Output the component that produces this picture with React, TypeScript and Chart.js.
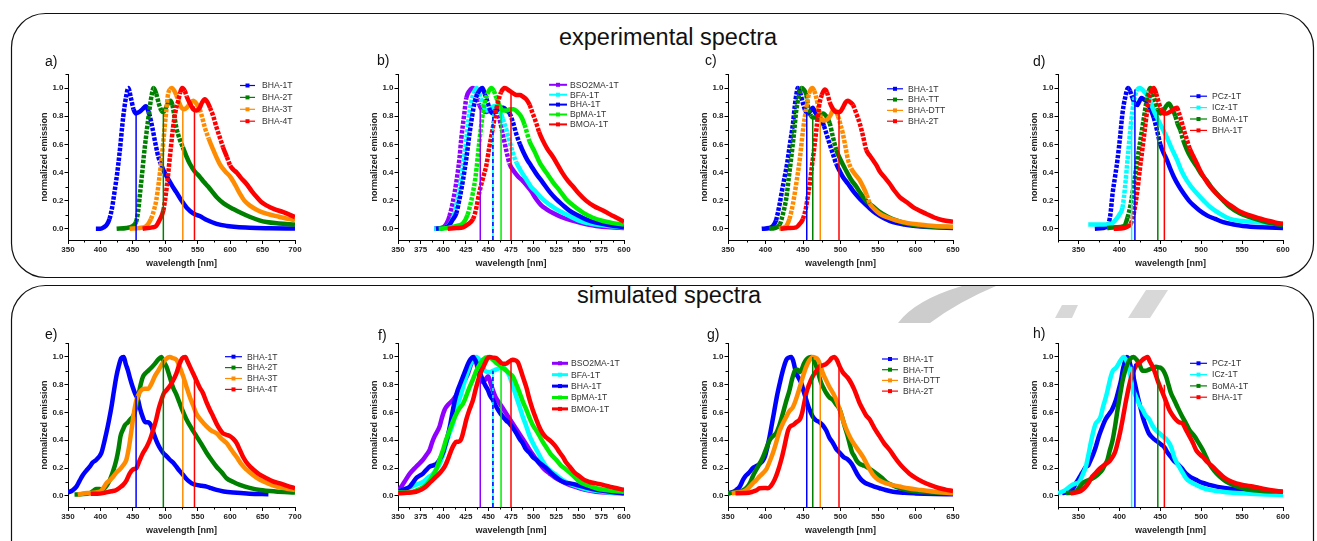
import React, { useEffect, useRef } from 'react';
import { Chart, registerables } from 'chart.js';

Chart.register(...registerables);

// ---------- colours ----------
const BLUE = '#0000ff';
const GREEN = '#008000';
const ORANGE = '#ff8c00';
const RED = '#ff0000';
const VIOLET = '#8f00ff';
const CYAN = '#00ffff';
const LIME = '#00ee00';

const FONT = '"Liberation Sans", Arial, Helvetica, sans-serif';

// ---------- legend names ----------
const namesBHAn = ['BHA-1T', 'BHA-2T', 'BHA-3T', 'BHA-4T'];
const namesAcc = ['BSO2MA-1T', 'BFA-1T', 'BHA-1T', 'BpMA-1T', 'BMOA-1T'];
const namesBridge = ['BHA-1T', 'BHA-TT', 'BHA-DTT', 'BHA-2T'];
const namesDonor = ['PCz-1T', 'ICz-1T', 'BoMA-1T', 'BHA-1T'];

const colorsBHAn = [BLUE, GREEN, ORANGE, RED];
const colorsAcc = [VIOLET, CYAN, BLUE, LIME, RED];
const colorsBridge = [BLUE, GREEN, ORANGE, RED];
const colorsDonor = [BLUE, CYAN, GREEN, RED];

// ---------- a) experimental, BHA-nT  [wavelength nm, normalized emission] ----------
const aBHA1T = [[393,0],[400,0],[405,0.01],[410,0.03],[414,0.07],[418,0.15],[422,0.27],[426,0.4],[430,0.56],[435,0.79],[440,0.95],[443,1.0],[447,0.93],[451,0.85],[455,0.82],[460,0.83],[465,0.85],[470,0.87],[475,0.82],[480,0.72],[485,0.6],[490,0.5],[495,0.44],[500,0.39],[505,0.35],[510,0.31],[517,0.26],[525,0.2],[533,0.15],[543,0.11],[553,0.09],[565,0.06],[579,0.035],[595,0.02],[610,0.012],[630,0.007],[660,0.004],[700,0.002]];
const aBHA2T = [[425,0],[440,0.005],[450,0.02],[455,0.05],[458,0.12],[461,0.25],[464,0.38],[467,0.52],[471,0.68],[476,0.86],[479,0.95],[482,1.0],[486,0.96],[490,0.89],[494,0.84],[497,0.83],[501,0.86],[505,0.9],[508,0.91],[511,0.88],[514,0.8],[517,0.72],[522,0.64],[527,0.58],[533,0.51],[538,0.46],[545,0.41],[553,0.37],[560,0.33],[566,0.3],[573,0.26],[579,0.225],[590,0.18],[605,0.14],[618,0.11],[630,0.085],[645,0.06],[656,0.048],[675,0.038],[700,0.03]];
const aBHA3T = [[445,0],[460,0.005],[471,0.02],[478,0.07],[483,0.14],[486,0.2],[490,0.33],[494,0.49],[497,0.62],[499,0.72],[502,0.86],[504,0.95],[507,0.99],[510,1.0],[514,0.98],[517,0.95],[521,0.9],[525,0.86],[529,0.85],[533,0.86],[538,0.89],[543,0.91],[548,0.89],[553,0.85],[557,0.79],[561,0.72],[567,0.64],[574,0.56],[584,0.46],[592,0.41],[600,0.37],[608,0.31],[615,0.25],[622,0.2],[630,0.166],[643,0.13],[656,0.107],[675,0.085],[700,0.06]];
const aBHA4T = [[465,0],[480,0.01],[486,0.02],[491,0.06],[497,0.13],[501,0.25],[504,0.37],[508,0.55],[512,0.72],[516,0.84],[520,0.91],[523,0.97],[526,1.0],[530,0.98],[533,0.94],[538,0.89],[543,0.85],[548,0.84],[553,0.86],[557,0.9],[561,0.92],[565,0.9],[569,0.86],[574,0.8],[579,0.72],[584,0.65],[589,0.58],[595,0.51],[600,0.45],[605,0.42],[610,0.4],[617,0.36],[625,0.32],[633,0.27],[641,0.225],[648,0.19],[656,0.166],[668,0.14],[682,0.118],[700,0.083]];
const markA = [455, 497, 527, 545];
const markATop = [0.82, 0.83, 0.86, 0.87];

// ---------- b) experimental, acceptor series ----------
const bBSO2MA1T = [[390,0],[400,0.01],[404,0.04],[407,0.09],[411,0.2],[414.5,0.33],[418,0.5],[420,0.64],[423,0.8],[425.6,0.93],[429,0.98],[433,1.0],[437,0.96],[440,0.88],[444,0.84],[448,0.83],[452,0.85],[456,0.86],[459,0.84],[463,0.76],[466,0.67],[470,0.55],[473.5,0.46],[478,0.41],[483,0.37],[488,0.34],[492,0.31],[497,0.27],[503,0.21],[508,0.17],[514,0.14],[522,0.11],[532,0.08],[542,0.06],[551,0.043],[560,0.03],[569,0.02],[585,0.01],[600,0.005]];
const bBFA1T = [[390,0],[400,0.005],[407,0.03],[412,0.1],[415,0.18],[418,0.28],[422,0.45],[425.6,0.64],[428,0.78],[431,0.9],[434,0.97],[437,1.0],[440,0.96],[444,0.88],[448,0.84],[452,0.85],[456,0.87],[460,0.87],[463,0.83],[466,0.78],[470,0.7],[473.5,0.62],[477,0.54],[481,0.47],[486,0.41],[492,0.35],[497,0.3],[503,0.26],[510,0.21],[518,0.17],[525,0.14],[532,0.115],[541,0.085],[551,0.055],[560,0.04],[569,0.03],[585,0.018],[600,0.01]];
const bBHA1T = [[392,0],[400,0.005],[406,0.02],[410,0.06],[414.5,0.11],[418,0.21],[422,0.35],[425.6,0.5],[429,0.67],[432,0.8],[434.8,0.9],[438,0.96],[441,0.99],[443.3,1.0],[446,0.96],[449,0.9],[452,0.84],[455,0.82],[459,0.84],[463,0.86],[467,0.86],[470,0.84],[473.5,0.82],[477,0.76],[481,0.67],[485,0.6],[489,0.54],[493,0.49],[497,0.45],[503,0.39],[510,0.33],[518,0.26],[525,0.21],[532,0.17],[540,0.127],[549,0.095],[558,0.067],[568,0.045],[580,0.03],[590,0.02],[600,0.012]];
const bBpMA1T = [[395,0],[405,0.005],[415,0.02],[422,0.04],[427,0.1],[430,0.17],[433,0.26],[436,0.38],[440,0.62],[443,0.78],[446,0.9],[449,0.96],[453,1.0],[456,0.98],[458.8,0.93],[462,0.88],[466,0.84],[470,0.84],[474,0.85],[478,0.85],[482,0.83],[486,0.8],[490,0.74],[495.6,0.62],[501,0.55],[506.7,0.47],[514,0.4],[521.5,0.33],[529,0.27],[536,0.21],[545,0.16],[554.6,0.115],[565,0.08],[576.8,0.055],[588,0.04],[600,0.03]];
const bBMOA1T = [[405,0],[415,0.005],[422,0.01],[427,0.03],[433,0.07],[436,0.13],[440,0.26],[444,0.36],[447.7,0.45],[451,0.58],[455,0.72],[458,0.83],[460.6,0.9],[464,0.97],[468,1.0],[473.5,0.98],[478,0.96],[481,0.95],[485,0.95],[488,0.94],[492,0.92],[495.6,0.88],[499,0.82],[503,0.75],[506,0.69],[510,0.63],[515,0.57],[521.5,0.51],[527,0.45],[532.5,0.39],[538,0.34],[543.6,0.3],[550,0.25],[558,0.2],[567,0.16],[576.8,0.13],[588,0.09],[600,0.05]];
const markB = [441, 455, 455, 464, 475];
const markBTop = [0.85, 0.82, 0.82, 0.85, 0.96];
const markBDash = [false, false, true, false, false];

// ---------- c) experimental, bridge series ----------
const cBHA1T = [[395,0],[405,0.005],[410,0.02],[414,0.06],[419,0.18],[422,0.27],[425.6,0.37],[429,0.47],[432,0.58],[434.5,0.67],[436.7,0.75],[439,0.87],[441,0.95],[443,1.0],[446,0.97],[450,0.89],[453,0.84],[456.7,0.82],[460,0.84],[463,0.86],[466,0.83],[470,0.8],[474,0.78],[478,0.73],[481,0.68],[485.6,0.6],[490,0.53],[494.4,0.46],[499,0.41],[503,0.37],[510,0.32],[516.7,0.27],[523,0.23],[530,0.19],[538,0.15],[547.8,0.107],[558,0.075],[570,0.047],[585,0.03],[600,0.02],[625,0.01],[650,0.005]];
const cBHATT = [[405,0],[412,0.005],[419,0.03],[423,0.1],[427.8,0.22],[431,0.36],[434.4,0.51],[438,0.68],[441,0.84],[444,0.93],[447.8,1.0],[451,0.99],[454.4,0.95],[457,0.86],[461,0.8],[464,0.79],[467.8,0.79],[472,0.81],[476.7,0.82],[481,0.8],[485.6,0.75],[490,0.65],[494.4,0.56],[500,0.49],[507.8,0.41],[514,0.35],[521,0.3],[527,0.25],[534,0.2],[543,0.16],[552,0.12],[563,0.085],[574.4,0.06],[590,0.035],[605.6,0.02],[625,0.015],[650,0.01]];
const cBHADTT = [[418,0],[425,0.01],[427.8,0.02],[432,0.07],[436.7,0.18],[441,0.32],[445.6,0.49],[450,0.7],[454.4,0.86],[458,0.96],[462.4,1.0],[465,0.98],[467.8,0.93],[471,0.85],[474,0.79],[476.7,0.77],[480,0.77],[483,0.78],[487,0.81],[490,0.84],[493,0.84],[496.7,0.8],[500,0.74],[503,0.68],[506.7,0.58],[510,0.49],[514,0.43],[519,0.39],[525,0.35],[530,0.3],[535,0.24],[539,0.18],[545,0.14],[552,0.107],[563,0.08],[574,0.06],[590,0.04],[605,0.03],[625,0.02],[650,0.015]];
const cBHA2T = [[420,0],[430,0.005],[441,0.01],[445,0.03],[450,0.07],[454,0.15],[457,0.25],[459,0.32],[462,0.45],[465.6,0.6],[469,0.76],[472,0.89],[475,0.95],[478.9,0.99],[482,0.97],[485.6,0.9],[489,0.86],[494.4,0.83],[499,0.83],[503,0.86],[507,0.9],[510,0.91],[513,0.9],[516.7,0.88],[521,0.82],[525.6,0.75],[530,0.66],[534.4,0.56],[539,0.52],[543,0.49],[548,0.45],[552,0.41],[558,0.37],[565.6,0.32],[572,0.27],[579,0.225],[588,0.19],[596.7,0.154],[605,0.13],[614,0.107],[625,0.08],[636.7,0.06],[650,0.05]];
const markC = [455, 463, 473, 498];
const markCTop = [0.83, 0.8, 0.78, 0.83];

// ---------- d) experimental, donor series ----------
const dPCz1T = [[370,0],[380,0.005],[385.6,0.02],[389,0.1],[391.7,0.25],[395,0.38],[397.7,0.49],[401,0.66],[403.8,0.82],[407,0.93],[410.7,1.0],[413,0.98],[416,0.93],[419,0.89],[422,0.88],[424,0.9],[426.9,0.93],[430,0.92],[434,0.9],[438,0.85],[442,0.79],[446,0.7],[450,0.6],[454,0.54],[458,0.49],[462,0.43],[466.5,0.37],[472,0.31],[478.6,0.25],[485,0.2],[490.8,0.166],[498,0.13],[507,0.095],[517,0.07],[527,0.047],[540,0.03],[551,0.02],[575,0.01],[600,0.005]];
const dICz1T = [[362,0.03],[370,0.03],[380,0.03],[390,0.035],[395,0.06],[400,0.1],[403.8,0.15],[407,0.3],[410,0.49],[413,0.68],[416,0.84],[419,0.94],[422,0.99],[425,1.0],[428,0.99],[431,0.97],[434,0.95],[438,0.9],[442,0.84],[446,0.79],[452,0.72],[458,0.65],[464,0.57],[470.5,0.49],[476,0.41],[482.7,0.34],[489,0.29],[494.8,0.25],[503,0.2],[511,0.154],[522,0.11],[535,0.07],[550,0.055],[567.6,0.047],[585,0.04],[600,0.035]];
const dBoMA1T = [[385,0.005],[395,0.01],[405.8,0.02],[410,0.08],[414,0.18],[418,0.33],[422,0.49],[426,0.64],[430,0.79],[433,0.9],[436,0.98],[438,1.0],[441,0.96],[444,0.9],[447,0.85],[450,0.82],[453,0.83],[457,0.87],[460.4,0.89],[464,0.86],[468.5,0.8],[471,0.75],[474.6,0.7],[478,0.63],[482.7,0.56],[488,0.5],[494.8,0.44],[500,0.39],[507,0.34],[513,0.29],[519,0.25],[527,0.2],[535,0.154],[547,0.11],[559.5,0.083],[575,0.055],[590,0.035],[600,0.025]];
const dBHA1T = [[393,0],[405.8,0.005],[410,0.015],[414,0.035],[418,0.12],[422,0.27],[425,0.42],[428,0.56],[431,0.7],[434,0.84],[438,0.96],[442,1.0],[445,0.96],[448,0.9],[451,0.85],[454,0.82],[458,0.82],[462,0.83],[466,0.85],[470.5,0.86],[473,0.82],[476.6,0.75],[480,0.68],[482.7,0.63],[486,0.57],[490.8,0.51],[495,0.46],[499,0.41],[505,0.35],[511,0.3],[517,0.26],[523,0.225],[530,0.19],[539,0.154],[548,0.12],[559.5,0.095],[570,0.075],[580,0.06],[590,0.045],[600,0.035]];
const markD = [419, 415, 447, 455];
const markDTop = [0.99, 0.8, 0.84, 0.85];

// ---------- e) simulated, BHA-nT ----------
const eBHA1T = [[350,0.024],[357,0.04],[363,0.067],[368,0.11],[373,0.15],[378,0.18],[383.5,0.21],[388,0.24],[393.7,0.26],[401.5,0.31],[405,0.37],[409,0.45],[413,0.54],[417,0.64],[421,0.76],[424.6,0.86],[428,0.93],[432,0.99],[436,1.0],[439,0.95],[442.6,0.9],[446,0.84],[450,0.78],[454,0.73],[458,0.69],[461,0.63],[465,0.57],[469,0.53],[473,0.53],[478.7,0.5],[482,0.45],[486,0.4],[491,0.35],[496.7,0.31],[501,0.29],[507,0.26],[512,0.24],[517,0.21],[522,0.18],[527.6,0.15],[533,0.12],[538,0.1],[543,0.085],[548,0.079],[556,0.073],[563.6,0.067],[571,0.055],[579,0.043],[590,0.032],[604.8,0.024],[630,0.016],[659,0.012]];
const eBHA2T = [[360,0.01],[370,0.012],[383.5,0.02],[390,0.04],[393.7,0.05],[399,0.05],[404,0.045],[409,0.07],[414,0.11],[419,0.17],[424.6,0.26],[428,0.34],[431,0.43],[435,0.48],[438,0.51],[442.6,0.53],[446,0.55],[450,0.57],[454,0.62],[458,0.71],[462,0.8],[465.8,0.86],[469,0.88],[473.5,0.9],[478,0.92],[483.8,0.95],[489,0.98],[494,1.0],[497,0.97],[501.8,0.93],[506,0.87],[512,0.78],[517,0.73],[522,0.67],[527,0.61],[532.7,0.55],[540,0.49],[548,0.43],[556,0.37],[563.6,0.31],[571,0.26],[579,0.21],[587,0.17],[594.5,0.127],[605,0.1],[615,0.079],[630,0.058],[646,0.043],[670,0.032],[700,0.024]];
const eBHA3T = [[365,0.01],[380,0.02],[399,0.03],[405,0.06],[409,0.09],[414,0.11],[420,0.14],[425,0.17],[429.8,0.19],[435,0.22],[440,0.26],[444,0.35],[447.8,0.47],[451,0.58],[455.5,0.69],[459,0.73],[463,0.76],[468,0.77],[473.5,0.77],[478,0.8],[483.8,0.86],[489,0.9],[494,0.94],[500,0.98],[507,1.0],[512,0.99],[517,0.98],[522,0.93],[527.6,0.86],[533,0.78],[538,0.71],[543,0.65],[548,0.59],[556,0.54],[563.6,0.5],[571,0.47],[579,0.45],[587,0.41],[594.5,0.38],[602,0.33],[610,0.28],[617,0.23],[625,0.19],[635,0.15],[646,0.115],[658,0.09],[672,0.067],[686,0.053],[700,0.043]];
const eBHA4T = [[385,0.015],[395,0.015],[409,0.025],[417,0.033],[424.6,0.043],[430,0.06],[435,0.079],[440,0.11],[445,0.16],[450,0.19],[455.5,0.2],[460,0.25],[465.8,0.31],[471,0.35],[476,0.4],[481,0.47],[486,0.55],[490,0.63],[494,0.69],[498,0.74],[501.8,0.76],[507,0.79],[512,0.83],[517,0.88],[522,0.95],[526,0.99],[531,1.0],[534,0.97],[538,0.93],[543,0.88],[548,0.83],[553,0.78],[558,0.74],[563,0.68],[568.7,0.62],[574,0.57],[579,0.52],[584,0.48],[589,0.45],[594,0.44],[599.6,0.43],[605,0.41],[610,0.38],[615,0.33],[620,0.28],[627,0.23],[635.6,0.19],[645,0.155],[656,0.127],[666,0.105],[676.8,0.09],[688,0.072],[700,0.055]];
const markE = [455, 497, 527, 545];
const markETop = [0.72, 0.98, 0.87, 0.88];

// ---------- f) simulated, acceptor series ----------
const fBSO2MA1T = [[350,0.043],[353,0.06],[357,0.1],[363,0.16],[370,0.21],[377.6,0.26],[382,0.3],[385,0.33],[388,0.39],[390.6,0.43],[396,0.5],[398.5,0.56],[401.6,0.62],[406,0.66],[410.8,0.69],[416,0.74],[422,0.81],[427.4,0.88],[431,0.95],[434.8,1.0],[438.5,0.9],[441,0.85],[444,0.82],[447,0.84],[449.6,0.86],[452,0.82],[455,0.76],[458,0.71],[462.5,0.665],[466,0.63],[470,0.59],[477,0.52],[481,0.48],[486,0.43],[491,0.38],[495.6,0.33],[501,0.28],[506.7,0.23],[512,0.19],[517.8,0.16],[524,0.13],[532.5,0.1],[541,0.075],[551,0.055],[560,0.04],[569,0.03],[585,0.022],[600,0.019]];
const fBFA1T = [[350,0.03],[357,0.045],[363,0.06],[370,0.08],[377.6,0.1],[383,0.13],[388.7,0.16],[393,0.2],[396,0.23],[400,0.3],[403.5,0.38],[407,0.45],[410.8,0.52],[415,0.63],[420,0.74],[424,0.83],[427.4,0.9],[431,0.96],[433,0.98],[436.7,1.0],[440,0.98],[443,0.94],[446,0.9],[451.4,0.89],[455,0.9],[458.8,0.91],[462,0.92],[466,0.93],[470,0.9],[473.5,0.86],[477,0.79],[481,0.71],[484.6,0.64],[488,0.57],[492,0.5],[495.6,0.43],[500,0.37],[505,0.31],[509,0.26],[514,0.21],[519,0.18],[525,0.15],[530,0.125],[536,0.1],[545,0.075],[554.6,0.055],[565,0.04],[576.8,0.03],[590,0.022],[600,0.019]];
const fBHA1T = [[350,0.03],[356,0.045],[363,0.067],[367,0.1],[370,0.127],[374,0.145],[377.6,0.16],[381,0.185],[385,0.21],[389,0.22],[392.4,0.23],[396,0.26],[399.8,0.31],[402,0.36],[405,0.43],[408,0.52],[410.8,0.62],[413,0.69],[416,0.76],[419,0.81],[422,0.86],[425,0.91],[427.4,0.95],[430,0.98],[433,1.0],[436,0.97],[438.5,0.93],[441,0.88],[444,0.83],[447,0.79],[449.6,0.76],[452,0.72],[455,0.69],[458,0.65],[460.6,0.62],[466,0.57],[470,0.54],[473.5,0.52],[477,0.49],[481,0.45],[484.6,0.41],[488,0.38],[491,0.34],[495.6,0.31],[499,0.28],[503,0.26],[506,0.24],[510,0.22],[514,0.2],[517.8,0.175],[522,0.15],[528.8,0.115],[535,0.095],[540,0.09],[547,0.08],[554.6,0.067],[565,0.05],[576.8,0.036],[590,0.025],[600,0.019]];
const fBpMA1T = [[350,0.024],[358,0.025],[366.6,0.03],[374,0.05],[381,0.08],[386,0.12],[392.4,0.19],[396,0.26],[399.8,0.33],[403,0.4],[407,0.47],[411,0.54],[414.5,0.59],[418,0.63],[422,0.665],[425,0.71],[429,0.78],[433,0.84],[436.7,0.9],[440,0.94],[444,0.98],[449.6,1.0],[455,0.98],[458,0.96],[462.5,0.94],[466,0.92],[470,0.9],[473.5,0.88],[477,0.86],[481,0.8],[484.6,0.74],[488,0.68],[492,0.62],[495.6,0.56],[499,0.51],[503,0.47],[506.7,0.43],[510,0.39],[514,0.35],[519,0.3],[525,0.26],[530,0.22],[536,0.19],[543,0.15],[551,0.1],[560,0.075],[569,0.055],[580,0.042],[590,0.035],[600,0.03]];
const fBMOA1T = [[350,0.019],[360,0.022],[370,0.03],[376,0.045],[381,0.067],[386,0.1],[392.4,0.14],[397,0.17],[401.6,0.21],[405,0.26],[409,0.33],[412,0.37],[414.5,0.39],[417,0.39],[420,0.41],[423,0.48],[425.6,0.55],[429,0.62],[433,0.69],[436,0.77],[440,0.86],[443,0.91],[446,0.95],[449,0.99],[451.4,1.0],[455,0.995],[458.8,0.99],[462,0.97],[466,0.95],[469,0.95],[471.7,0.96],[475,0.975],[477,0.98],[480,0.975],[482.7,0.96],[485,0.92],[488,0.86],[492,0.78],[495.6,0.69],[499,0.62],[503,0.55],[506,0.5],[510,0.45],[514,0.42],[517.8,0.4],[521,0.38],[525,0.35],[529,0.31],[532.5,0.28],[536,0.24],[540,0.21],[545,0.17],[551,0.14],[556,0.115],[562,0.1],[569,0.09],[576.8,0.079],[585,0.065],[592,0.055],[600,0.043]];
const markF = [441, 455, 455, 464, 475];
const markFTop = [0.85, 0.9, 0.9, 0.94, 0.97];
const markFDash = [false, false, true, false, false];

// ---------- g) simulated, bridge series ----------
const gBHA1T = [[350,0.019],[355,0.025],[361,0.043],[366,0.07],[370,0.115],[373,0.14],[376.7,0.16],[380,0.18],[383,0.2],[388,0.215],[392,0.23],[396,0.25],[399,0.28],[402,0.34],[405.6,0.43],[409,0.53],[412,0.62],[415,0.71],[419,0.81],[423,0.9],[427.8,0.98],[431,0.995],[434.4,1.0],[437,0.97],[441,0.88],[444,0.85],[447.8,0.81],[451,0.75],[454.4,0.69],[458,0.63],[463,0.57],[467,0.545],[472,0.53],[476,0.51],[481,0.47],[485,0.42],[490,0.38],[494,0.34],[499,0.31],[504,0.28],[510,0.26],[515,0.23],[519,0.19],[523,0.15],[527.8,0.115],[533,0.093],[539,0.079],[545,0.067],[552,0.055],[560,0.042],[570,0.03],[585,0.022],[600,0.018],[625,0.014],[650,0.012]];
const gBHATT = [[350,0.019],[360,0.025],[370,0.04],[375,0.06],[379,0.09],[383,0.14],[387.8,0.19],[392,0.23],[396.7,0.28],[401,0.34],[405.6,0.4],[410,0.43],[414,0.45],[418,0.5],[423,0.59],[427,0.67],[432,0.76],[435,0.83],[439,0.9],[442,0.91],[445.6,0.89],[449,0.92],[451,0.95],[454.4,0.98],[458,0.995],[461,1.0],[464,0.98],[467.8,0.93],[471,0.87],[474.4,0.81],[478,0.77],[481,0.74],[485,0.71],[490,0.69],[494,0.66],[499,0.62],[502,0.57],[505.6,0.5],[509,0.44],[512,0.38],[515,0.32],[519,0.28],[522,0.25],[525.6,0.23],[530,0.22],[534.4,0.21],[540,0.19],[547.8,0.16],[555,0.13],[561,0.1],[570,0.075],[579,0.055],[590,0.04],[605.6,0.03],[625,0.024],[650,0.019]];
const gBHADTT = [[355,0.019],[362,0.024],[370,0.03],[376,0.05],[383,0.09],[388,0.115],[392,0.14],[396,0.16],[401,0.19],[405,0.24],[410,0.31],[414,0.38],[419,0.47],[423,0.52],[427.8,0.57],[432,0.61],[436.7,0.64],[441,0.7],[445.6,0.78],[450,0.86],[454.4,0.93],[458,0.97],[463,1.0],[466,0.995],[470,0.98],[473,0.94],[476.7,0.88],[481,0.83],[485.6,0.78],[490,0.74],[494.4,0.69],[499,0.62],[503,0.55],[507,0.49],[512,0.43],[516,0.39],[521,0.35],[525,0.32],[530,0.28],[534,0.24],[539,0.19],[543,0.155],[547.8,0.127],[554,0.105],[561,0.09],[570,0.077],[579,0.067],[590,0.055],[605.6,0.043],[625,0.03],[650,0.019]];
const gBHA2T = [[360,0.019],[374,0.02],[383,0.03],[388,0.04],[392,0.055],[398,0.057],[403,0.055],[407,0.07],[412,0.115],[416,0.17],[421,0.26],[425,0.35],[430,0.47],[433,0.5],[436.7,0.51],[441,0.53],[445.6,0.55],[448,0.58],[451,0.65],[454.4,0.74],[458,0.8],[463,0.86],[468,0.9],[472,0.93],[477,0.94],[481,0.95],[485,0.97],[488,0.99],[492,1.0],[495,0.98],[499,0.93],[503,0.89],[508,0.86],[511,0.84],[514.4,0.81],[518,0.77],[521,0.73],[525.6,0.665],[530,0.62],[534,0.58],[539,0.55],[545,0.49],[552,0.43],[558,0.38],[565.6,0.33],[572,0.28],[579,0.23],[585,0.195],[592,0.16],[600,0.13],[610,0.1],[620,0.077],[632,0.055],[640,0.045],[650,0.035]];
const markG = [455, 463, 473, 498];
const markGTop = [0.72, 1.0, 0.97, 0.95];

// ---------- h) simulated, donor series ----------
const hPCz1T = [[330,0.02],[338.6,0.03],[343,0.05],[346.7,0.09],[350,0.12],[352.9,0.15],[356,0.18],[359,0.21],[362,0.22],[365,0.26],[368,0.3],[371,0.35],[375,0.43],[379.4,0.5],[383,0.55],[387.6,0.59],[391,0.62],[395.8,0.69],[399,0.76],[402,0.83],[404,0.9],[406,0.95],[409.2,1.0],[411,0.99],[414,0.93],[417,0.86],[420,0.78],[423,0.7],[426.4,0.62],[429,0.56],[432.5,0.5],[436,0.45],[438.6,0.43],[442,0.41],[446.8,0.39],[451,0.37],[455,0.35],[459,0.31],[463,0.28],[467,0.25],[471,0.23],[476,0.2],[481.5,0.16],[487,0.135],[493.8,0.115],[501,0.095],[510,0.079],[520,0.065],[530.5,0.055],[540,0.048],[551,0.043],[575,0.03],[600,0.019]];
const hICz1T = [[325,0.02],[330,0.03],[334.5,0.043],[338,0.06],[342.6,0.08],[347,0.09],[350.8,0.1],[355,0.15],[359,0.21],[362,0.29],[365,0.38],[368,0.46],[371,0.52],[374,0.54],[377,0.57],[380,0.64],[383.5,0.71],[386,0.77],[389.6,0.86],[392,0.9],[395.8,0.92],[399,0.95],[402,0.98],[405,1.0],[408,0.98],[410,0.95],[413,0.88],[416,0.78],[419,0.73],[422,0.69],[425,0.65],[428.4,0.62],[432,0.58],[436.6,0.55],[440,0.51],[444.8,0.47],[449,0.45],[453,0.43],[457,0.41],[461,0.38],[464,0.34],[467,0.28],[470,0.24],[473,0.21],[477,0.17],[481.5,0.127],[487,0.1],[493.8,0.079],[501,0.06],[510,0.043],[522,0.033],[534.6,0.024],[560,0.015],[580,0.01],[600,0.007]];
const hBoMA1T = [[335,0.019],[340,0.022],[346.7,0.03],[351,0.06],[355,0.09],[359,0.105],[363,0.115],[367,0.125],[371,0.14],[375,0.16],[379.4,0.19],[382,0.22],[385.5,0.26],[388,0.32],[391.7,0.4],[395,0.51],[397.8,0.62],[401,0.73],[404,0.83],[407,0.9],[410,0.95],[414,0.99],[417.4,1.0],[421,0.98],[424.3,0.95],[428.4,0.9],[432,0.9],[436.6,0.91],[441,0.92],[444.8,0.93],[448,0.925],[450.9,0.92],[454,0.9],[457,0.86],[460,0.8],[463,0.74],[467,0.69],[471,0.64],[476,0.58],[481.5,0.52],[486,0.47],[491.7,0.43],[496,0.39],[502,0.33],[506,0.28],[510,0.23],[516,0.18],[522.4,0.14],[530,0.105],[538.7,0.079],[548,0.06],[559,0.043],[575,0.035],[600,0.03]];
const hBHA1T = [[340,0.019],[351,0.03],[355,0.045],[359,0.067],[363,0.1],[367,0.14],[371,0.165],[375,0.19],[379,0.21],[383.5,0.23],[388,0.25],[391.7,0.28],[395,0.32],[397.8,0.38],[401,0.46],[404,0.55],[407,0.65],[410,0.74],[413,0.82],[416,0.88],[419,0.92],[422.3,0.95],[425,0.96],[428.4,0.98],[431,0.99],[434.6,1.0],[437,0.97],[440.7,0.93],[444,0.88],[446.8,0.83],[450,0.78],[453,0.74],[457,0.68],[461,0.62],[465,0.58],[469,0.55],[473,0.53],[477.5,0.52],[481,0.48],[485.6,0.43],[490,0.38],[493.8,0.33],[498,0.3],[502,0.28],[508,0.24],[514,0.21],[520,0.175],[526.5,0.14],[534,0.11],[542.8,0.09],[552,0.077],[563,0.067],[573,0.055],[583.7,0.043],[600,0.03]];
const markH = [419, 415, 447, 455];
const markHTop = [0.95, 0.93, 0.92, 0.8];

// ---------- axis ranges ----------
const Y_MIN = -0.08;
const Y_MAX = 1.1;
const Y_STEP = 0.2;

// ---------- page layout (plot-area edges in page pixels) ----------
const COLS = [[68, 295], [398, 624], [728, 953], [1058, 1283]];
const ROWS = [[73.5, 239], [343, 507]];
const WY = 32; // width reserved for the y axis
const PR = 14; // right padding for the last x tick label
const PT = 6;  // top padding
const HX = 34; // height reserved for the x axis

const PANELS = [
  { label: 'a)', col: 0, row: 0, xMin: 350, xMax: 700, xStep: 50, measured: true,
    series: [aBHA1T, aBHA2T, aBHA3T, aBHA4T], names: namesBHAn, colors: colorsBHAn,
    marks: markA, markTops: markATop, markColors: colorsBHAn, markDash: null,
    legend: { x: 240, y: 85, gap: 11.9, len: 15, lw: 1.2, tx: 262 }, lx: 45, lb: 66 },
  { label: 'b)', col: 1, row: 0, xMin: 350, xMax: 600, xStep: 25, measured: true,
    series: [bBSO2MA1T, bBFA1T, bBHA1T, bBpMA1T, bBMOA1T], names: namesAcc, colors: colorsAcc,
    marks: markB, markTops: markBTop, markColors: colorsAcc, markDash: markBDash,
    legend: { x: 549, y: 84.3, gap: 9.9, len: 18, lw: 2, tx: 570 }, lx: 377, lb: 65 },
  { label: 'c)', col: 2, row: 0, xMin: 350, xMax: 650, xStep: 50, measured: true,
    series: [cBHA1T, cBHATT, cBHADTT, cBHA2T], names: namesBridge, colors: colorsBridge,
    marks: markC, markTops: markCTop, markColors: colorsBridge, markDash: null,
    legend: { x: 887, y: 88.3, gap: 10.8, len: 16, lw: 1.2, tx: 908 }, lx: 705, lb: 65 },
  { label: 'd)', col: 3, row: 0, xMin: 325, xMax: 600, xStep: 50, measured: true,
    series: [dPCz1T, dICz1T, dBoMA1T, dBHA1T], names: namesDonor, colors: colorsDonor,
    marks: markD, markTops: markDTop, markColors: colorsDonor, markDash: null,
    legend: { x: 1190, y: 95.7, gap: 11.4, len: 17, lw: 1.2, tx: 1212 }, lx: 1033, lb: 66 },
  { label: 'e)', col: 0, row: 1, xMin: 350, xMax: 700, xStep: 50, measured: false,
    series: [eBHA1T, eBHA2T, eBHA3T, eBHA4T], names: namesBHAn, colors: colorsBHAn,
    marks: markE, markTops: markETop, markColors: colorsBHAn, markDash: null,
    legend: { x: 225, y: 356.7, gap: 10.9, len: 17, lw: 1.2, tx: 247 }, lx: 45, lb: 339 },
  { label: 'f)', col: 1, row: 1, xMin: 350, xMax: 600, xStep: 25, measured: false,
    series: [fBSO2MA1T, fBFA1T, fBHA1T, fBpMA1T, fBMOA1T], names: namesAcc, colors: colorsAcc,
    marks: markF, markTops: markFTop, markColors: colorsAcc, markDash: markFDash,
    legend: { x: 552, y: 363.3, gap: 11.4, len: 16, lw: 3, tx: 571 }, lx: 378, lb: 340 },
  { label: 'g)', col: 2, row: 1, xMin: 350, xMax: 650, xStep: 50, measured: false,
    series: [gBHA1T, gBHATT, gBHADTT, gBHA2T], names: namesBridge, colors: colorsBridge,
    marks: markG, markTops: markGTop, markColors: colorsBridge, markDash: null,
    legend: { x: 882, y: 359, gap: 10.7, len: 16, lw: 1.2, tx: 903 }, lx: 707, lb: 339 },
  { label: 'h)', col: 3, row: 1, xMin: 325, xMax: 600, xStep: 50, measured: false,
    series: [hPCz1T, hICz1T, hBoMA1T, hBHA1T], names: namesDonor, colors: colorsDonor,
    marks: markH, markTops: markHTop, markColors: colorsDonor, markDash: null,
    legend: { x: 1190, y: 363.3, gap: 11.3, len: 17, lw: 1.2, tx: 1212 }, lx: 1033, lb: 338 },
];

// Measured spectra are many tightly packed square symbols: on steep flanks they separate
// into dots, so only the steepest segments get a short dash.
const steepDash = (c) => {
  const dx = Math.abs(c.p1.x - c.p0.x);
  const dy = Math.abs(c.p1.y - c.p0.y);
  return dy > 2.6 * dx ? [3.5, 1.4] : undefined;
};

// Short unlabeled ticks halfway between the labelled ones, Origin style.
function minorTickPlugin() {
  return {
    id: 'minorTicks',
    afterDraw(chart) {
      const { ctx, chartArea } = chart;
      const xs = chart.scales.x;
      const ys = chart.scales.y;
      ctx.save();
      ctx.strokeStyle = '#000';
      ctx.lineWidth = 1;
      const xv = xs.ticks.map((t) => t.value);
      const xstep = xv[1] - xv[0];
      for (let v = xv[0] - xstep / 2; v <= xs.max + 1e-6; v += xstep) {
        if (v < xs.min - 1e-6) continue;
        const px = Math.round(xs.getPixelForValue(v)) + 0.5;
        ctx.beginPath();
        ctx.moveTo(px, chartArea.bottom);
        ctx.lineTo(px, chartArea.bottom + 2.5);
        ctx.stroke();
      }
      const yv = ys.ticks.map((t) => t.value);
      const ystep = yv[1] - yv[0];
      for (let v = yv[0] - ystep / 2; v <= ys.max + 1e-6; v += ystep) {
        if (v < ys.min - 1e-6) continue;
        const py = Math.round(ys.getPixelForValue(v)) + 0.5;
        ctx.beginPath();
        ctx.moveTo(chartArea.left, py);
        ctx.lineTo(chartArea.left - 2.5, py);
        ctx.stroke();
      }
      ctx.restore();
    },
  };
}

// Legend box inside the plot: short line with a square symbol, then the name.
function legendPlugin(p, cl, ct) {
  return {
    id: 'panelLegend',
    afterDraw(chart) {
      const ctx = chart.ctx;
      const lg = p.legend;
      ctx.save();
      p.names.forEach((name, i) => {
        const y = lg.y + i * lg.gap - ct;
        const x0 = lg.x - cl;
        const col = p.colors[i];
        ctx.strokeStyle = col;
        ctx.lineWidth = lg.lw;
        ctx.beginPath();
        ctx.moveTo(x0, y);
        ctx.lineTo(x0 + lg.len, y);
        ctx.stroke();
        ctx.fillStyle = col;
        ctx.fillRect(x0 + lg.len / 2 - 2, y - 2, 4, 4);
        ctx.fillStyle = '#333';
        ctx.font = `8.6px ${FONT}`;
        ctx.textBaseline = 'middle';
        ctx.textAlign = 'left';
        ctx.fillText(name, lg.tx - cl, y + 0.5);
      });
      ctx.restore();
    },
  };
}

function buildConfig(p, cl, ct) {
  const datasets = [];
  p.series.forEach((pts, i) => {
    datasets.push({
      label: p.names[i],
      data: pts.map(([x, y]) => ({ x, y })),
      borderColor: p.colors[i],
      backgroundColor: p.colors[i],
      borderWidth: 4.5,
      borderJoinStyle: 'round',
      pointRadius: 0,
      cubicInterpolationMode: 'monotone',
      fill: false,
      order: -i,
      segment: p.measured ? { borderDash: steepDash } : undefined,
    });
  });
  p.marks.forEach((wl, i) => {
    datasets.push({
      label: 'marker ' + wl,
      data: [{ x: wl, y: Y_MIN }, { x: wl, y: p.markTops[i] }],
      borderColor: p.markColors[i],
      borderWidth: 1.5,
      borderDash: p.markDash && p.markDash[i] ? [4, 3] : [],
      pointRadius: 0,
      fill: false,
      order: -100 - i,
    });
  });

  const tickFont = { family: FONT, size: 8, weight: 'bold' };
  const titleFont = { family: FONT, size: 9, weight: 'bold' };
  const grid = { display: true, drawOnChartArea: false, drawTicks: true, tickLength: 4, color: '#000', lineWidth: 1 };
  const border = { display: true, color: '#000', width: 1 };

  return {
    type: 'line',
    data: { datasets },
    options: {
      animation: false,
      responsive: false,
      events: [],
      layout: { padding: { left: 0, top: PT, right: PR, bottom: 0 } },
      plugins: { legend: { display: false }, tooltip: { enabled: false }, title: { display: false } },
      scales: {
        x: {
          type: 'linear',
          min: p.xMin,
          max: p.xMax,
          grid,
          border,
          ticks: {
            stepSize: p.xStep,
            includeBounds: false,
            autoSkip: false,
            maxRotation: 0,
            font: tickFont,
            color: '#222',
            padding: 1,
            callback: (v) => String(Math.round(v)),
          },
          title: { display: true, text: 'wavelength [nm]', font: titleFont, color: '#222', padding: { top: 0, bottom: 4.6 } },
          afterFit(s) {
            s.height = HX;
            s.paddingLeft = 0;
            s.paddingRight = 0;
          },
        },
        y: {
          type: 'linear',
          min: Y_MIN,
          max: Y_MAX,
          grid: { ...grid, tickLength: 3.5 },
          border,
          ticks: {
            stepSize: Y_STEP,
            includeBounds: false,
            autoSkip: false,
            font: tickFont,
            color: '#222',
            padding: 1,
            callback: (v) => Number(v).toFixed(1),
          },
          title: { display: true, text: 'normalized emission', font: titleFont, color: '#222', padding: { top: 3, bottom: 0 } },
          afterFit(s) {
            s.width = WY;
            s.paddingTop = 0;
            s.paddingBottom = 0;
          },
        },
      },
    },
    plugins: [minorTickPlugin(), legendPlugin(p, cl, ct)],
  };
}

function Panel({ p }) {
  const ref = useRef(null);
  const [L, R] = COLS[p.col];
  const [T, B] = ROWS[p.row];
  const left = L - WY;
  const top = T - PT;
  const width = Math.round(R - L + WY + PR);
  const height = Math.round(B - T + PT + HX);

  useEffect(() => {
    const chart = new Chart(ref.current, buildConfig(p, left, top));
    return () => chart.destroy();
  }, []);

  return (
    <>
      <canvas ref={ref} width={width} height={height} style={{ position: 'absolute', left, top, width, height }} />
      <div style={{ position: 'absolute', left: p.lx, top: p.lb - 11.85, fontSize: 14, lineHeight: '14px', color: '#111', whiteSpace: 'nowrap' }}>
        {p.label}
      </div>
    </>
  );
}

function Heading({ cx, baseline, text }) {
  return (
    <div style={{ position: 'absolute', left: cx, top: baseline - 19.9, transform: 'translateX(-50%)', fontSize: 23.5, lineHeight: '23.5px', color: '#111', whiteSpace: 'nowrap' }}>
      {text}
    </div>
  );
}

export default function App() {
  return (
    <div style={{ position: 'absolute', left: 0, top: 0, width: 1317, height: 541, background: '#fff', overflow: 'hidden', fontFamily: FONT }}>
      <svg width={1317} height={541} style={{ position: 'absolute', left: 0, top: 0 }}>
        {/* faint grey brush-stroke marks */}
        <path d="M 898 323 Q 915 300 962 286 L 996 286 Q 958 302 930 323 Z" fill="#cdcdcd" />
        <path d="M 1055 318 L 1072 318 L 1078 305 L 1062 305 Z" fill="#d8d8d8" />
        <path d="M 1128 318 L 1150 318 L 1168 290 L 1146 290 Z" fill="#d8d8d8" />
        {/* section frames */}
        <rect x={11.5} y={13.5} width={1302} height={264} rx={34} ry={34} fill="none" stroke="#111" strokeWidth={1.2} />
        <rect x={11.5} y={285.5} width={1302} height={300} rx={34} ry={34} fill="none" stroke="#111" strokeWidth={1.2} />
      </svg>
      <Heading cx={668} baseline={46} text="experimental spectra" />
      <Heading cx={669} baseline={304} text="simulated spectra" />
      {PANELS.map((p) => (
        <Panel key={p.label} p={p} />
      ))}
    </div>
  );
}
